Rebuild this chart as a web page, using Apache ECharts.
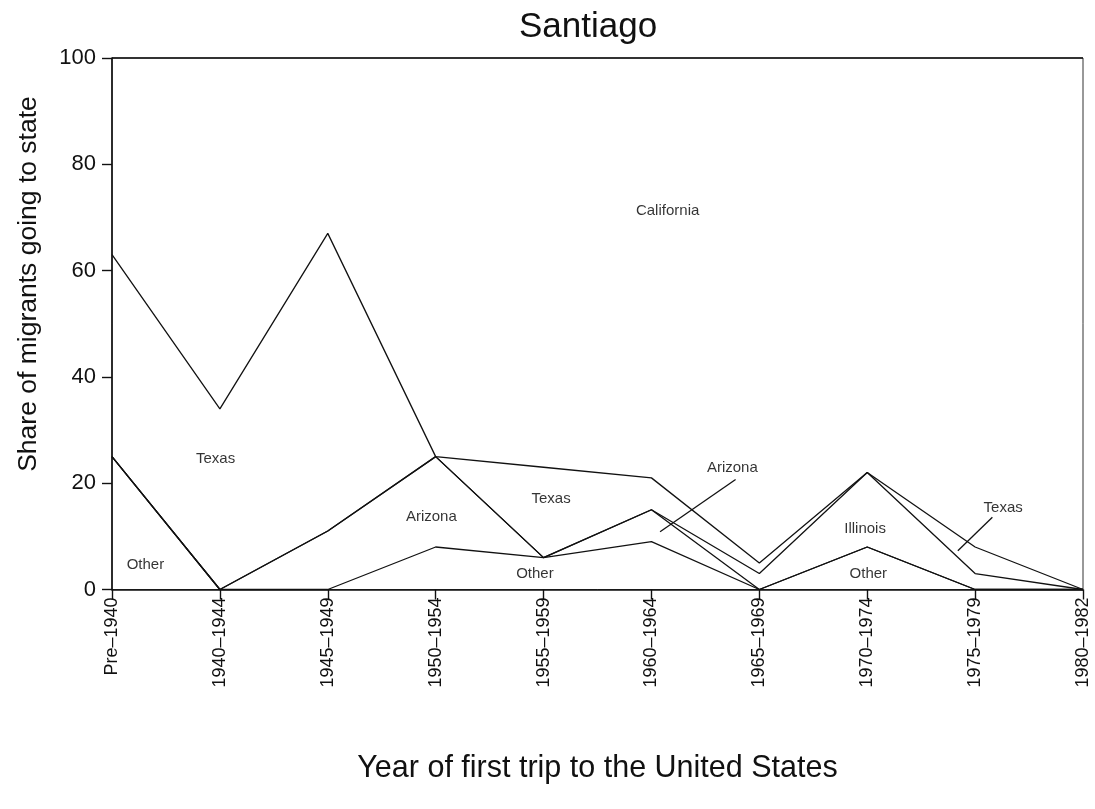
<!DOCTYPE html>
<html>
<head>
<meta charset="utf-8">
<title>Santiago</title>
<script src="https://cdn.jsdelivr.net/npm/echarts@6/dist/echarts.min.js"></script>
<style>
  html, body { margin: 0; padding: 0; background: #fff; }
  #chart { width: 1095px; height: 809px; }
</style>
</head>
<body>
<div id="chart"></div>
<script>
// Period of first trip
const categories = ['Pre–1940', '1940–1944', '1945–1949', '1950–1954', '1955–1959',
                    '1960–1964', '1965–1969', '1970–1974', '1975–1979', '1980–1982'];

// Share of migrants (%) going to each state, stacked bottom to top
const other      = [25,  0,  0,  8,  6,  9,  0,  8,  0,   0];
const arizona    = [ 0,  0, 11, 17,  0,  6,  0,  0,  0,   0];
const illinois   = [ 0,  0,  0,  0,  0,  0,  3, 14,  3,   0];
const texas      = [38, 34, 56,  0, 17,  6,  2,  0,  5,   0];
const california = [37, 66, 33, 75, 77, 79, 95, 78, 92, 100];

const yTicks = [0, 20, 40, 60, 80, 100];

// Region labels placed in data space (x = category index, y = percent)
const regionLabels = [
  { name: 'California', x: 5.15, y: 71.3 },
  { name: 'Texas',      x: 0.96, y: 24.6 },
  { name: 'Other',      x: 0.31, y: 4.7 },
  { name: 'Arizona',    x: 2.96, y: 13.7 },
  { name: 'Texas',      x: 4.07, y: 17.1 },
  { name: 'Other',      x: 3.92, y: 2.9 },
  { name: 'Arizona',    x: 5.75, y: 22.8 },
  { name: 'Illinois',   x: 6.98, y: 11.5 },
  { name: 'Other',      x: 7.01, y: 3.0 },
  { name: 'Texas',      x: 8.26, y: 15.4 }
];

// Leader lines from a label to its thin band
const leaders = [
  [[5.78, 20.7], [5.08, 10.85]],
  [[8.16, 13.6], [7.84, 7.3]]
];

const FONT = 'Liberation Sans, Arial, Helvetica, sans-serif';
const INK = '#111';

const stackSeries = [
  ['Other', other], ['Arizona', arizona], ['Illinois', illinois],
  ['Texas', texas], ['California', california]
].map(([name, values]) => ({
  name: name,
  type: 'line',
  stack: 'share',
  data: values,
  symbol: 'none',
  smooth: false,
  clip: false,
  lineStyle: { color: INK, width: 1.3 },
  emphasis: { disabled: true },
  z: 3
}));

const leaderSeries = leaders.map(seg => ({
  type: 'line',
  xAxisIndex: 1,
  data: seg,
  symbol: 'none',
  lineStyle: { color: INK, width: 1.3 },
  emphasis: { disabled: true },
  z: 4
}));

const labelSeries = {
  type: 'scatter',
  xAxisIndex: 1,
  symbolSize: 1,
  itemStyle: { color: 'rgba(0,0,0,0)' },
  data: regionLabels.map(d => ({ name: d.name, value: [d.x, d.y] })),
  label: {
    show: true,
    position: 'inside',
    formatter: p => p.name,
    color: '#000',
    fontFamily: FONT,
    fontSize: 15
  },
  emphasis: { disabled: true },
  z: 5
};

const chart = echarts.init(document.getElementById('chart'), null, { renderer: 'canvas' });
chart.setOption({
  animation: false,
  backgroundColor: '#fff',
  title: {
    text: 'Santiago',
    left: 514,
    top: 5,
    textStyle: { fontFamily: FONT, fontSize: 35, fontWeight: 'normal', color: INK }
  },
  grid: {
    left: 112, right: 12, top: 58, bottom: 219.5,
    show: true,
    borderColor: '#333',
    borderWidth: 1,
    backgroundColor: 'transparent'
  },
  xAxis: [
    {
      type: 'category',
      data: categories,
      boundaryGap: false,
      axisLine: { show: true, lineStyle: { color: INK, width: 1.6 } },
      axisTick: { show: true, alignWithLabel: true, length: 10, lineStyle: { color: INK, width: 1.4 } },
      axisLabel: {
        rotate: 90,
        margin: 8,
        interval: 0,
        color: INK,
        fontFamily: FONT,
        fontSize: 18
      },
      splitLine: { show: false },
      name: 'Year of first trip to the United States',
      nameLocation: 'middle',
      nameGap: 164,
      nameTextStyle: { fontFamily: FONT, fontSize: 30.5, color: INK }
    },
    {
      type: 'value',
      min: 0,
      max: categories.length - 1,
      show: false
    }
  ],
  yAxis: {
    type: 'value',
    min: yTicks[0],
    max: yTicks[yTicks.length - 1],
    interval: 20,
    axisLine: { show: true, lineStyle: { color: INK, width: 1.6 } },
    axisTick: { show: true, length: 10, lineStyle: { color: INK, width: 1.4 } },
    axisLabel: { margin: 16, color: INK, fontFamily: FONT, fontSize: 22 },
    splitLine: { show: false }
  },
  graphic: [
    {
      type: 'text',
      x: 29,
      y: 284,
      rotation: Math.PI / 2,
      style: {
        text: 'Share of migrants going to state',
        fontFamily: FONT,
        fontSize: 26.5,
        fill: INK,
        align: 'center',
        verticalAlign: 'middle'
      }
    }
  ],
  series: [...stackSeries, ...leaderSeries, labelSeries]
});
</script>
</body>
</html>
